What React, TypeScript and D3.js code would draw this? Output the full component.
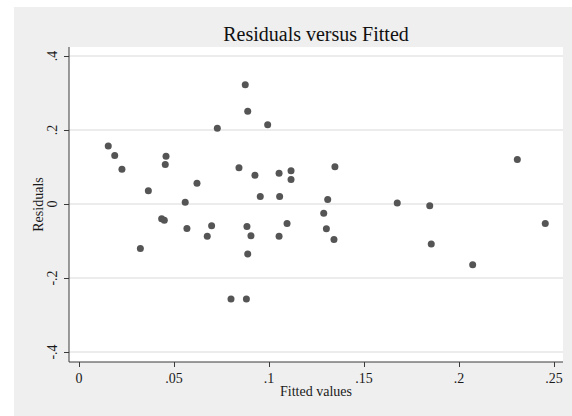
import { useEffect, useRef } from "react";
import * as d3 from "d3";

// fitted values and residuals
const fitted = [
  0.0154, 0.0188, 0.0226, 0.0458, 0.0454, 0.0365, 0.0621, 0.0559, 0.0435, 0.0449,
  0.0568, 0.0698, 0.0675, 0.0323, 0.0728, 0.0842, 0.0875, 0.0888, 0.0993, 0.0926,
  0.1053, 0.1116, 0.1116, 0.1347, 0.0954, 0.1056, 0.1309, 0.1288, 0.1302, 0.1342,
  0.1095, 0.1053, 0.0884, 0.0905, 0.0888, 0.08, 0.0881, 0.2307, 0.1675, 0.1846,
  0.1854, 0.2072, 0.2454,
];
const residuals = [
  0.157, 0.131, 0.094, 0.129, 0.107, 0.036, 0.056, 0.005, -0.04, -0.044,
  -0.066, -0.059, -0.087, -0.12, 0.205, 0.098, 0.322, 0.251, 0.214, 0.078,
  0.083, 0.09, 0.066, 0.101, 0.02, 0.02, 0.012, -0.025, -0.067, -0.096,
  -0.053, -0.087, -0.061, -0.086, -0.135, -0.257, -0.257, 0.12, 0.003, -0.005,
  -0.108, -0.164, -0.053,
];
const xTicks = [0, 0.05, 0.1, 0.15, 0.2, 0.25];
const yTicks = [-0.4, -0.2, 0, 0.2, 0.4];

const title = "Residuals versus Fitted";
const xLabel = "Fitted values";
const yLabel = "Residuals";

// stata style: drop the leading zero
const fmt = (d: number) => (d === 0 ? "0" : String(d).replace(/^(-?)0\./, "$1."));

export default function App() {
  const svgRef = useRef<SVGSVGElement>(null);

  useEffect(() => {
    const svg = d3.select(svgRef.current);
    svg.selectAll("*").remove();

    const width = 572;
    const height = 416;
    const plot = { left: 69, right: 563, top: 47, bottom: 362 };
    const font = "'Liberation Serif', 'Times New Roman', serif";

    const x = d3.scaleLinear().domain([0, 0.25]).range([79, 554]);
    const y = d3.scaleLinear().domain([-0.4, 0.4]).range([352, 56]);

    svg.append("rect").attr("width", width).attr("height", height).attr("fill", "#ffffff");
    svg
      .append("rect")
      .attr("x", 14)
      .attr("y", 7)
      .attr("width", width - 14)
      .attr("height", height - 7)
      .attr("fill", "#efefef");

    svg
      .append("rect")
      .attr("x", plot.left)
      .attr("y", plot.top)
      .attr("width", plot.right - plot.left)
      .attr("height", plot.bottom - plot.top)
      .attr("fill", "#ffffff");

    // gridlines
    svg
      .append("g")
      .selectAll("line")
      .data(yTicks)
      .enter()
      .append("line")
      .attr("x1", plot.left)
      .attr("x2", plot.right)
      .attr("y1", (d) => y(d))
      .attr("y2", (d) => y(d))
      .attr("stroke", "#e6e6e6")
      .attr("stroke-width", 1.5);

    // axes
    const yAxis = svg
      .append("g")
      .attr("transform", `translate(${plot.left},0)`)
      .call(d3.axisLeft(y).tickValues(yTicks).tickSize(5).tickFormat(() => ""));
    yAxis.select(".domain").attr("d", `M0,${plot.top}V${plot.bottom}`).attr("stroke", "#3a3a3a");
    yAxis.selectAll(".tick line").attr("stroke", "#3a3a3a");

    const xAxis = svg
      .append("g")
      .attr("transform", `translate(0,${plot.bottom})`)
      .call(d3.axisBottom(x).tickValues(xTicks).tickSize(5).tickFormat(() => ""));
    xAxis.select(".domain").attr("d", `M${plot.left},0H${plot.right}`).attr("stroke", "#3a3a3a");
    xAxis.selectAll(".tick line").attr("stroke", "#3a3a3a");

    // tick labels
    svg
      .append("g")
      .selectAll("text")
      .data(xTicks)
      .enter()
      .append("text")
      .attr("x", (d) => x(d))
      .attr("y", 383)
      .attr("text-anchor", "middle")
      .attr("font-family", font)
      .attr("font-size", 14)
      .attr("fill", "#1a1a1a")
      .text(fmt);

    svg
      .append("g")
      .selectAll("text")
      .data(yTicks)
      .enter()
      .append("text")
      .attr("transform", (d) => `translate(57,${y(d)}) rotate(-90)`)
      .attr("text-anchor", "middle")
      .attr("font-family", font)
      .attr("font-size", 14)
      .attr("fill", "#1a1a1a")
      .text(fmt);

    // points
    svg
      .append("g")
      .selectAll("circle")
      .data(fitted.map((f, i) => ({ f, r: residuals[i] })))
      .enter()
      .append("circle")
      .attr("cx", (d) => x(d.f))
      .attr("cy", (d) => y(d.r))
      .attr("r", 3.5)
      .attr("fill", "#555555");

    // titles
    svg
      .append("text")
      .attr("x", (plot.left + plot.right) / 2)
      .attr("y", 41)
      .attr("text-anchor", "middle")
      .attr("font-family", font)
      .attr("font-size", 20)
      .attr("fill", "#111")
      .text(title);

    svg
      .append("text")
      .attr("x", (plot.left + plot.right) / 2)
      .attr("y", 396)
      .attr("text-anchor", "middle")
      .attr("font-family", font)
      .attr("font-size", 14)
      .attr("fill", "#1a1a1a")
      .text(xLabel);

    svg
      .append("text")
      .attr("transform", `translate(43,${(plot.top + plot.bottom) / 2}) rotate(-90)`)
      .attr("text-anchor", "middle")
      .attr("font-family", font)
      .attr("font-size", 14)
      .attr("fill", "#1a1a1a")
      .text(yLabel);
  }, []);

  return (
    <div style={{ position: "fixed", left: 0, top: 0 }}>
      <svg ref={svgRef} width={572} height={416} style={{ display: "block" }} />
    </div>
  );
}
